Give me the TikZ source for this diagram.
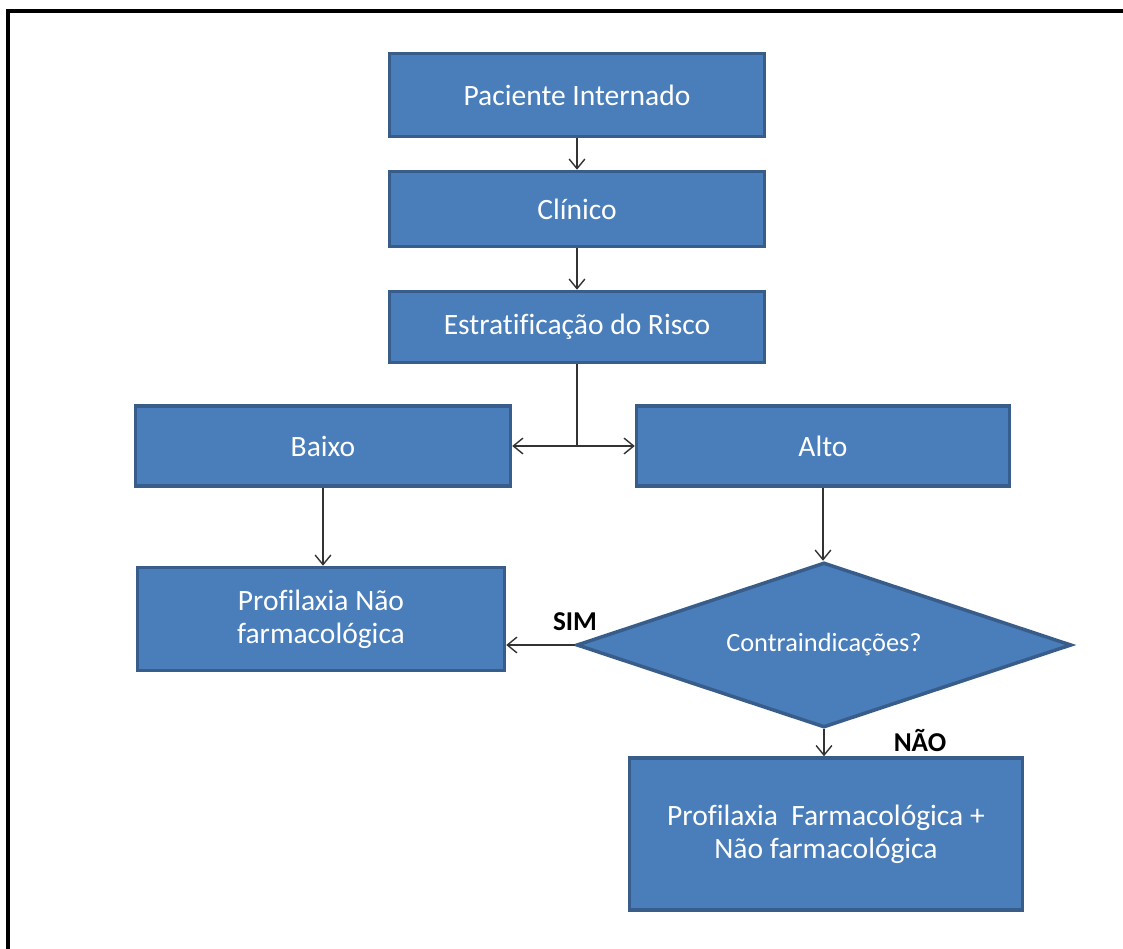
\documentclass[tikz,border=0pt]{standalone}
\usepackage{fontspec}
\setmainfont{Carlito}[Ligatures=NoCommon]
\usepackage{xcolor}
\usepackage{tikz}
\usetikzlibrary{arrows.meta,calc,positioning,shapes.geometric}
\definecolor{boxfill}{HTML}{4A7EBB}
\definecolor{boxedge}{HTML}{385D8A}
\tikzset{
  box/.style={draw=boxedge,fill=boxfill,line width=2pt,text=white,align=center,inner sep=0pt,font=\fontsize{16.8}{19}\selectfont},
  decision/.style={box,diamond,aspect=3,font=\fontsize{15}{18}\selectfont},
  arr/.style={draw=black!80,line width=0.8pt,-{Straight Barb[length=5.5pt,width=9pt]}},
  lbl/.style={font=\bfseries\fontsize{15.5}{18}\selectfont,inner sep=0pt}
}
\begin{document}
\begin{tikzpicture}[x=0.02cm,y=-0.02cm]
  \useasboundingbox (0,0) rectangle (1123,949);
  \draw[line width=2.4pt] (8,970) -- (8,11) -- (1140,11);
  \node[box,minimum width=7.5cm,minimum height=1.66cm] (pac) at (577,95) {Paciente Internado};
  \node[box,minimum width=7.5cm,minimum height=1.5cm] (clin) at (577,209) {Clínico};
  \node[box,minimum width=7.5cm,minimum height=1.42cm] (risco) at (577,327) {Estratificação do Risco};
  \node[box,minimum width=7.5cm,minimum height=1.6cm] (baixo) at (323,446) {Baixo};
  \node[box,minimum width=7.46cm,minimum height=1.6cm] (alto) at (823,446) {Alto};
  \node[box,minimum width=7.34cm,minimum height=2.06cm] (naofarm) at (321,619) {Profilaxia Não\\farmacológica};
  \node[decision,minimum width=9.9cm,minimum height=3.3cm] (contra) at (824,645) {Contraindicações?};
  \node[box,minimum width=7.86cm,minimum height=3.04cm] (farm) at (826,834) {Profilaxia\ \ Farmacológica +\\Não farmacológica};
  \node[lbl] (sim) at (575,622) {SIM};
  \node[lbl] (nao) at (920,741) {NÃO};
  \draw[arr] (pac) -- (clin);
  \draw[arr] (clin) -- (risco);
  \draw[draw=black!80,line width=0.8pt] (risco.south) -- (risco.south |- baixo.east) coordinate (split);
  \draw[arr] (split) -- (baixo.east);
  \draw[arr] (split) -- (alto.west);
  \draw[arr] (baixo.south) -- (baixo.south |- naofarm.north);
  \draw[arr] (alto.south) -- (alto.south |- contra.north);
  \draw[arr] (contra.west) -- (contra.west -| naofarm.east);
  \draw[arr] (contra.south) -- (contra.south |- farm.north);
\end{tikzpicture}
\end{document}
